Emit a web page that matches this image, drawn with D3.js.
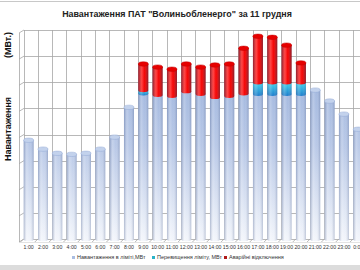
<!DOCTYPE html>
<html>
<head>
<meta charset="utf-8">
<script src="https://cdn.jsdelivr.net/npm/d3@7"></script>
<style>
  body { margin: 0; background: #fff; }
  svg { display: block; font-family: "Liberation Sans", Arial, sans-serif; }
</style>
</head>
<body>
<svg id="chart" width="360" height="270"></svg>
<script>
var hours = ['1:00', '2:00', '3:00', '4:00', '5:00', '6:00', '7:00', '8:00', '9:00', '10:00', '11:00', '12:00',
    '13:00', '14:00', '15:00', '16:00', '17:00', '18:00', '19:00', '20:00', '21:00', '22:00', '23:00', '0:00'];

// load within limit, MW
var limitLoad = [189, 172, 164, 162, 164, 172, 195, 252, 279, 276, 274, 283,
    278, 272, 274, 279, 278, 278, 278, 278, 285, 264, 239, 210];
// exceeding limit, MW
var exceedLoad = [0, 0, 0, 0, 0, 0, 0, 0, 6, 0, 0, 0,
    0, 0, 0, 0, 22, 22, 22, 22, 0, 0, 0, 0];
// emergency cut-offs
var emergency = [0, 0, 0, 0, 0, 0, 0, 0, 50, 53, 51, 52,
    51, 61, 61, 86, 88, 86, 71, 37, 0, 0, 0, 0];

var seriesNames = ['Навантаження в ліміті,МВт', 'Перевищення ліміту, МВт', 'Аварійні відключення'];
var yTicks = [0, 50, 100, 150, 200, 250, 300, 350, 400];

var svg = d3.select('#chart');
var W = 360, H = 270;

var rows = hours.map(function (h, i) {
    return { hour: h, limit: limitLoad[i], exceed: exceedLoad[i], emerg: emergency[i] };
});
var stack = d3.stack().keys(['limit', 'exceed', 'emerg'])(rows);

var x = d3.scaleBand()
    .domain(hours)
    .range([21.5, 21.5 + 24 * 14.33]);

var y = d3.scaleLinear()
    .domain([0, 400])
    .range([239, 30]);

// gradients
var defs = svg.append('defs');

var gBlue = defs.append('linearGradient').attr('id', 'gBlue')
    .attr('gradientUnits', 'userSpaceOnUse')
    .attr('x1', 0).attr('y1', y(400)).attr('x2', 0).attr('y2', y(0));
gBlue.append('stop').attr('offset', '0%').attr('stop-color', '#90aad8');
gBlue.append('stop').attr('offset', '55%').attr('stop-color', '#b8c8e7');
gBlue.append('stop').attr('offset', '100%').attr('stop-color', '#f2f5fb');

var gShade = defs.append('linearGradient').attr('id', 'gShade')
    .attr('x1', 0).attr('y1', 0).attr('x2', 1).attr('y2', 0);
gShade.append('stop').attr('offset', '0%').attr('stop-color', '#3a4f80').attr('stop-opacity', 0.35);
gShade.append('stop').attr('offset', '30%').attr('stop-color', '#ffffff').attr('stop-opacity', 0.2);
gShade.append('stop').attr('offset', '60%').attr('stop-color', '#ffffff').attr('stop-opacity', 0);
gShade.append('stop').attr('offset', '100%').attr('stop-color', '#3a4f80').attr('stop-opacity', 0.3);

var gCyan = defs.append('linearGradient').attr('id', 'gCyan')
    .attr('x1', 0).attr('y1', 0).attr('x2', 0).attr('y2', 1);
gCyan.append('stop').attr('offset', '0%').attr('stop-color', '#40d8ee');
gCyan.append('stop').attr('offset', '100%').attr('stop-color', '#1c7ccc');

var gRed = defs.append('linearGradient').attr('id', 'gRed')
    .attr('x1', 0).attr('y1', 0).attr('x2', 1).attr('y2', 0);
gRed.append('stop').attr('offset', '0%').attr('stop-color', '#c00000');
gRed.append('stop').attr('offset', '35%').attr('stop-color', '#ff1c1c');
gRed.append('stop').attr('offset', '70%').attr('stop-color', '#f00000');
gRed.append('stop').attr('offset', '100%').attr('stop-color', '#b00000');

// outer frame
svg.append('rect').attr('x', 0).attr('y', 265).attr('width', W).attr('height', 5).attr('fill', '#dcdcdc');
svg.append('line').attr('x1', 0).attr('x2', W).attr('y1', 1.5).attr('y2', 1.5)
    .attr('stroke', '#c8c8c8').attr('stroke-width', 1);

// title
svg.append('text')
    .attr('x', 177).attr('y', 17)
    .attr('text-anchor', 'middle')
    .style('font-size', '8.9px').style('font-weight', 'bold').attr('fill', '#222')
    .text('Навантаження ПАТ "Волиньобленерго" за 11 грудня');

// y axis title
svg.append('text')
    .attr('transform', 'translate(11,129)rotate(-90)')
    .attr('text-anchor', 'middle')
    .style('font-size', '9px').style('font-weight', 'bold').attr('fill', '#111')
    .text('Навантаження');
svg.append('text')
    .attr('transform', 'translate(11,45)rotate(-90)')
    .attr('text-anchor', 'middle')
    .style('font-size', '9px').style('font-weight', 'bold').attr('fill', '#111')
    .text('(МВт.)');

// back wall grid
var grid = svg.append('g').attr('stroke', '#a6a6a6').attr('stroke-width', 0.8);
grid.selectAll('.hgrid').data(yTicks).enter().append('line')
    .attr('class', 'hgrid')
    .attr('x1', 24).attr('x2', W)
    .attr('y1', function (d) { return Math.round(y(d)) + 0.5; })
    .attr('y2', function (d) { return Math.round(y(d)) + 0.5; });
grid.selectAll('.vgrid').data(hours).enter().append('line')
    .attr('class', 'vgrid')
    .attr('x1', function (d) { return Math.round(x(d) + 2) + 0.5; })
    .attr('x2', function (d) { return Math.round(x(d) + 2) + 0.5; })
    .attr('y1', y(400)).attr('y2', y(0));

// side wall ticks
grid.selectAll('.side').data(yTicks).enter().append('line')
    .attr('class', 'side')
    .attr('x1', 19).attr('x2', 24)
    .attr('y1', function (d) { return y(d) + 3; })
    .attr('y2', function (d) { return y(d); });
grid.append('line').attr('x1', 19.5).attr('x2', 19.5).attr('y1', y(400) + 3).attr('y2', y(0) + 3);

// floor ticks
svg.append('g').selectAll('line').data(d3.range(25)).enter().append('line')
    .attr('x1', function (i) { return 23.5 + i * x.step(); })
    .attr('x2', function (i) { return 20.5 + i * x.step(); })
    .attr('y1', y(0)).attr('y2', y(0) + 3)
    .attr('stroke', '#a6a6a6').attr('stroke-width', 0.8);
svg.append('line').attr('x1', 19).attr('x2', W).attr('y1', y(0) + 3.5).attr('y2', y(0) + 3.5)
    .attr('stroke', '#d0d0d0').attr('stroke-width', 0.6);

// cylinders
var bw = 10, rx = bw / 2, ry = 2.2;
var fills = ['url(#gBlue)', 'url(#gCyan)', 'url(#gRed)'];
var capFills = ['#c3d2ec', '#4fd8ee', '#e60000'];
var capStrokes = ['#94abd6', '#1c9ccc', '#c00000'];

function segPath(d, xc) {
    var x0 = xc - rx, x1 = xc + rx, yt = y(d[1]), yb = y(d[0]);
    return 'M' + x0 + ',' + yt + 'L' + x0 + ',' + yb +
        'A' + rx + ',' + ry + ' 0 0 0 ' + x1 + ',' + yb +
        'L' + x1 + ',' + yt + 'Z';
}

var bars = svg.append('g');
stack.forEach(function (layer, li) {
    layer.forEach(function (d, i) {
        if (d[1] - d[0] <= 0) return;
        var xc = x(hours[i]) + x.bandwidth() / 2;
        bars.append('path').attr('d', segPath(d, xc)).attr('fill', fills[li]);
        bars.append('path').attr('d', segPath(d, xc)).attr('fill', 'url(#gShade)');
    });
});
// top caps
rows.forEach(function (r, i) {
    var li = r.emerg > 0 ? 2 : (r.exceed > 0 ? 1 : 0);
    var top = stack[li][i][1];
    bars.append('ellipse')
        .attr('cx', x(r.hour) + x.bandwidth() / 2)
        .attr('cy', y(top))
        .attr('rx', rx).attr('ry', ry)
        .attr('fill', capFills[li])
        .attr('stroke', capStrokes[li]).attr('stroke-width', 0.5);
});

// x labels
svg.append('g').selectAll('text').data(hours).enter().append('text')
    .attr('x', function (d) { return x(d) + x.bandwidth() / 2; })
    .attr('y', 249)
    .attr('text-anchor', 'middle')
    .style('font-size', '5.2px').attr('fill', '#333')
    .text(function (d) { return d; });

// legend
var legendX = [72, 152, 224];
var legendColors = ['#a9bde2', '#2ab3c8', '#b01818'];
var legend = svg.append('g').selectAll('g').data(seriesNames).enter().append('g')
    .attr('transform', function (d, i) { return 'translate(' + legendX[i] + ',259)'; });
legend.append('rect').attr('x', 0).attr('y', -3).attr('width', 3).attr('height', 3)
    .attr('fill', function (d, i) { return legendColors[i]; });
legend.append('text').attr('x', 5).attr('y', 0)
    .style('font-size', '5.5px').attr('fill', '#333')
    .text(function (d) { return d; });
</script>
</body>
</html>
